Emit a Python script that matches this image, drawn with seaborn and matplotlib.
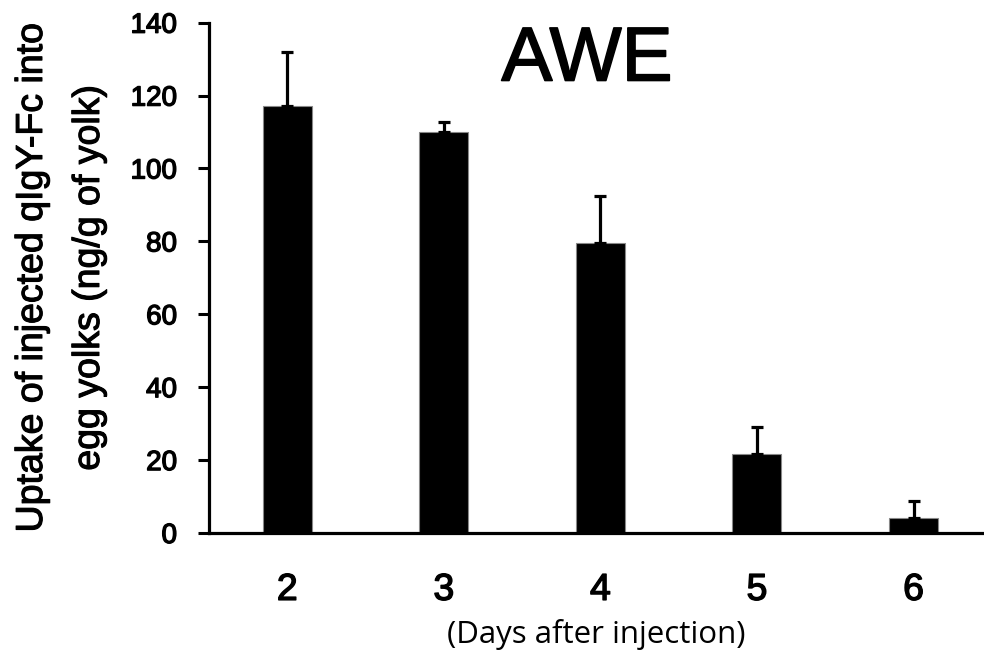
import matplotlib
matplotlib.use("Agg")
import matplotlib.pyplot as plt
import matplotlib.patheffects as pe
import seaborn as sns
import pandas as pd

days = ["2", "3", "4", "5", "6"]
uptake = [117.2, 109.9, 79.5, 21.6, 4.2]
err_upper = [14.8, 2.9, 13.0, 7.4, 4.6]
yticks = [0, 20, 40, 60, 80, 100, 120, 140]

sns.set_theme(style="white")
plt.rcParams['font.family'] = ['Liberation Sans', 'DejaVu Sans']

tick_heavy = [pe.withStroke(linewidth=1.0, foreground="black")]
label_heavy = [pe.withStroke(linewidth=0.8, foreground="black")]

df = pd.DataFrame({"day": days, "uptake": uptake})

fig = plt.figure(figsize=(9.84, 6.64), dpi=100)
ax = fig.add_axes([209/984, 1-533/664, 1-209/984, (533-22.7)/664])

sns.barplot(data=df, x="day", y="uptake", color="black", width=0.313,
            errorbar=None, edgecolor="#888888", linewidth=0.8, ax=ax,
            saturation=1)
ax.errorbar(range(len(days)), uptake, yerr=[[0]*len(days), err_upper],
            fmt="none", ecolor="black", elinewidth=2.3, capsize=4.5,
            capthick=2.3, zorder=1)

ax.set_xlim(-0.5, 4.45)
ax.set_ylim(0, 140)
ax.set_yticks(yticks)
ax.set_yticklabels([str(v) for v in yticks], fontsize=20)
ax.set_xticks(range(len(days)))
ax.set_xticklabels(days, fontsize=27)
ax.tick_params(axis="y", direction="out", length=8, width=2.2, pad=15,
               left=True, color="black", labelcolor="black")
ax.tick_params(axis="x", length=0, pad=28, labelcolor="black")
for lab in ax.get_yticklabels() + ax.get_xticklabels():
    lab.set_path_effects(tick_heavy)

for s in ["top", "right"]:
    ax.spines[s].set_visible(False)
for s in ["left", "bottom"]:
    ax.spines[s].set_linewidth(2.3)
    ax.spines[s].set_color("black")

ax.set_xlabel("(Days after injection)", fontsize=22.5, color="black",
              labelpad=8, family=["Open Sans", "DejaVu Sans"])
ax.set_ylabel("Uptake of injected qIgY-Fc into\negg yolks (ng/g of yolk)",
              fontsize=27, color="black", linespacing=1.75, labelpad=17,
              path_effects=label_heavy)
fig.text(587/984, 1-61/664, "AWE", fontsize=55, ha="center", va="center",
         color="black", path_effects=[pe.withStroke(linewidth=1.2, foreground="black")])

fig.savefig("out.png", dpi=100)
